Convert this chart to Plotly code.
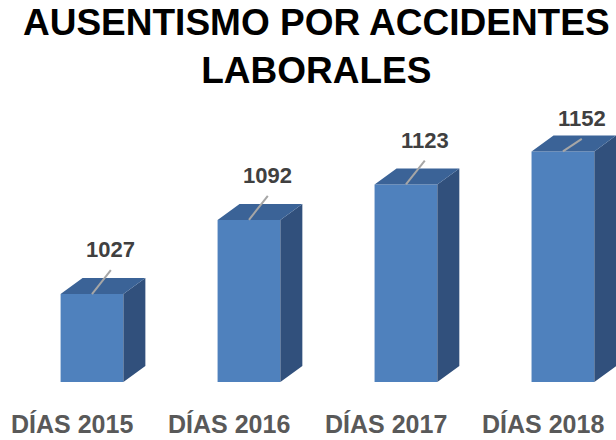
import plotly.graph_objects as go

categorias = ['DÍAS 2015', 'DÍAS 2016', 'DÍAS 2017', 'DÍAS 2018']
dias = [1027, 1092, 1123, 1152]
base = 950

# geometria del efecto 3d (unidades de eje)
w = 0.40      # ancho de la cara frontal
dx = 0.14     # profundidad en x
dy = 14       # profundidad en y
lx = 0.12     # linea guia de la etiqueta
ly = [21, 21, 21, 11]

xs = list(range(len(dias)))

fig = go.Figure()

# cara lateral
sx, sy = [], []
for x, v in zip(xs, dias):
    r = x + w / 2
    sx += [r, r + dx, r + dx, r, None]
    sy += [base, base + dy, v + dy, v, None]
fig.add_trace(go.Scatter(x=sx, y=sy, fill='toself', mode='none',
                         fillcolor='#31507C', hoverinfo='skip', showlegend=False))

# cara superior
tx, ty = [], []
for x, v in zip(xs, dias):
    l, r = x - w / 2, x + w / 2
    tx += [l, l + dx, r + dx, r, None]
    ty += [v, v + dy, v + dy, v, None]
fig.add_trace(go.Scatter(x=tx, y=ty, fill='toself', mode='none',
                         fillcolor='#3B6397', hoverinfo='skip', showlegend=False))

# cara frontal
fig.add_trace(go.Bar(x=xs, y=[v - base for v in dias], base=base, width=w,
                     marker=dict(color='#4F81BD', line=dict(width=0)),
                     showlegend=False))

# lineas guia
gx, gy = [], []
for x, v, h in zip(xs, dias, ly):
    gx += [x, x + lx, None]
    gy += [v, v + h, None]
fig.add_trace(go.Scatter(x=gx, y=gy, mode='lines', line=dict(color='#A6A6A6', width=2),
                         hoverinfo='skip', showlegend=False))

for x, v, h in zip(xs, dias, ly):
    fig.add_annotation(x=x + lx, y=v + h, text='<b>%d</b>' % v, showarrow=False,
                       xanchor='center', yanchor='bottom', yshift=6,
                       font=dict(family='Liberation Sans', size=22, color='#404040'))
    fig.add_annotation(x=x - 0.13, y=base, text='<b>' + categorias[x] + '</b>', showarrow=False,
                       xanchor='center', yanchor='middle', yshift=-42,
                       font=dict(family='Liberation Sans', size=25, color='#595959'))

# titulo
fig.add_annotation(x=316 / 616, y=1 + 100 / 282, xref='paper', yref='paper',
                   text='<b>AUSENTISMO POR ACCIDENTES<br>LABORALES</b>', showarrow=False,
                   xanchor='center', yanchor='top',
                   font=dict(family='Liberation Sans', size=37, color='black'))

fig.update_layout(
    width=616, height=440,
    margin=dict(l=0, r=0, t=100, b=58),
    paper_bgcolor='white', plot_bgcolor='white',
    xaxis=dict(range=[-0.586, 3.338], visible=False, fixedrange=True),
    yaxis=dict(range=[base, 1197], visible=False, fixedrange=True),
)

fig.write_html('out.html', config={'displayModeBar': False},
               post_script="document.body.style.margin='0px';")
